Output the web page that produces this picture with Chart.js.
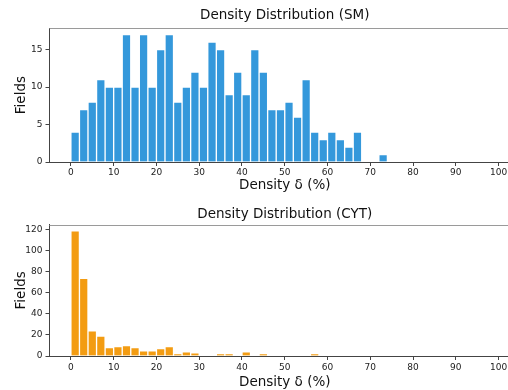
<!DOCTYPE html>
<html>
<head>
<meta charset="utf-8">
<script src="https://cdn.jsdelivr.net/npm/chart.js@4.4.0/dist/chart.umd.min.js"></script>
<style>
  html, body { margin: 0; padding: 0; background: #fff; overflow: hidden; }
  #wrap { position: relative; width: 508px; height: 390px; overflow: hidden; }
  .box { position: absolute; left: 0; width: 522px; }
  #b1 { top: 0; height: 198px; }
  #b2 { top: 198px; height: 196px; }
</style>
</head>
<body>
<div id="wrap">
  <div class="box" id="b1"><canvas id="c1"></canvas></div>
  <div class="box" id="b2"><canvas id="c2"></canvas></div>
</div>
<script>
// ---- data ----
const binWidth = 2;
const smBinStarts = [0,2,4,6,8,10,12,14,16,18,20,22,24,26,28,30,32,34,36,38,40,42,44,46,48,50,52,54,56,58,60,62,64,66,68,70,72];
const smCounts    = [4,7,8,11,10,10,17,10,17,10,15,17,8,10,12,10,16,15,9,12,9,15,12,7,7,8,6,11,4,3,4,3,2,4,0,0,1];
const cytBinStarts = [0,2,4,6,8,10,12,14,16,18,20,22,24,26,28,30,32,34,36,38,40,42,44,46,48,50,52,54,56];
const cytCounts    = [119,74,24,19,8,9,10,8,5,5,7,9,2,4,3,0,0,2,2,0,4,0,2,0,0,0,0,0,2];
const xTicks = [0,10,20,30,40,50,60,70,80,90,100];
const smYTicks = [0,5,10,15];
const cytYTicks = [0,20,40,60,80,100,120];
const smTitle = 'Density Distribution (SM)';
const cytTitle = 'Density Distribution (CYT)';
const xLabel = 'Density \u03B4 (%)';
const yLabel = 'Fields';

const FONT = "'DejaVu Sans', sans-serif";

const topSpine = {
  id: 'topSpine',
  afterDraw(chart) {
    const {ctx, chartArea} = chart;
    ctx.save();
    ctx.strokeStyle = '#9a9a9a';
    ctx.lineWidth = 1;
    ctx.beginPath();
    ctx.moveTo(chartArea.left, Math.round(chartArea.top) + 0.5);
    ctx.lineTo(chartArea.right, Math.round(chartArea.top) + 0.5);
    ctx.stroke();
    ctx.restore();
  }
};

function makeChart(id, starts, counts, color, title, yTicks, yMax, xAxisH, titlePad, tickPad, xTitlePad) {
  const pts = starts.map((s, i) => ({ x: s + binWidth / 2, y: counts[i] }));
  return new Chart(document.getElementById(id), {
    type: 'bar',
    data: {
      datasets: [{
        data: pts,
        backgroundColor: color,
        borderColor: 'rgba(255,255,255,0.75)',
        borderWidth: 1,
        borderSkipped: 'bottom',
        barPercentage: 1,
        categoryPercentage: 1
      }]
    },
    plugins: [topSpine],
    options: {
      responsive: true,
      maintainAspectRatio: false,
      animation: false,
      layout: { padding: { left: 0, right: 2, top: 0, bottom: 0 } },
      plugins: {
        legend: { display: false },
        tooltip: { enabled: false },
        title: {
          display: true,
          text: title,
          fullSize: false,
          color: '#111',
          font: { family: FONT, size: 13.5, weight: 'normal' },
          padding: titlePad
        }
      },
      scales: {
        x: {
          type: 'linear',
          min: -5,
          max: 105,
          offset: false,
          afterBuildTicks: s => { s.ticks = xTicks.map(v => ({ value: v })); },
          afterFit: s => { s.height = xAxisH; },
          grid: { display: true, offset: false, drawOnChartArea: false, drawTicks: true, tickLength: 4, tickColor: '#444' },
          border: { display: true, color: '#444', width: 1 },
          ticks: { color: '#222', font: { family: FONT, size: 9 }, padding: tickPad, maxRotation: 0, autoSkip: false },
          title: { display: true, text: xLabel, color: '#111', font: { family: FONT, size: 13.5 }, padding: xTitlePad }
        },
        y: {
          min: 0,
          max: yMax,
          afterBuildTicks: s => { s.ticks = yTicks.map(v => ({ value: v })); },
          afterFit: s => { s.width = 49.5; },
          grid: { display: true, drawOnChartArea: false, drawTicks: true, tickLength: 4, tickColor: '#444' },
          border: { display: true, color: '#444', width: 1 },
          ticks: { color: '#222', font: { family: FONT, size: 9 }, padding: 3 },
          title: { display: true, text: yLabel, color: '#111', font: { family: FONT, size: 13.5 }, padding: { top: 13, bottom: 0 } }
        }
      }
    }
  });
}

makeChart('c1', smBinStarts, smCounts, '#3498db', smTitle, smYTicks,
  Math.max(...smCounts) * 1.05, 36, { top: 7, bottom: 5 }, 1, { top: 0, bottom: 4 });
makeChart('c2', cytBinStarts, cytCounts, '#f39c12', cytTitle, cytYTicks,
  Math.max(...cytCounts) * 1.05, 38, { top: 8, bottom: 2.5 }, 2, { top: 0, bottom: 3 });
</script>
</body>
</html>
